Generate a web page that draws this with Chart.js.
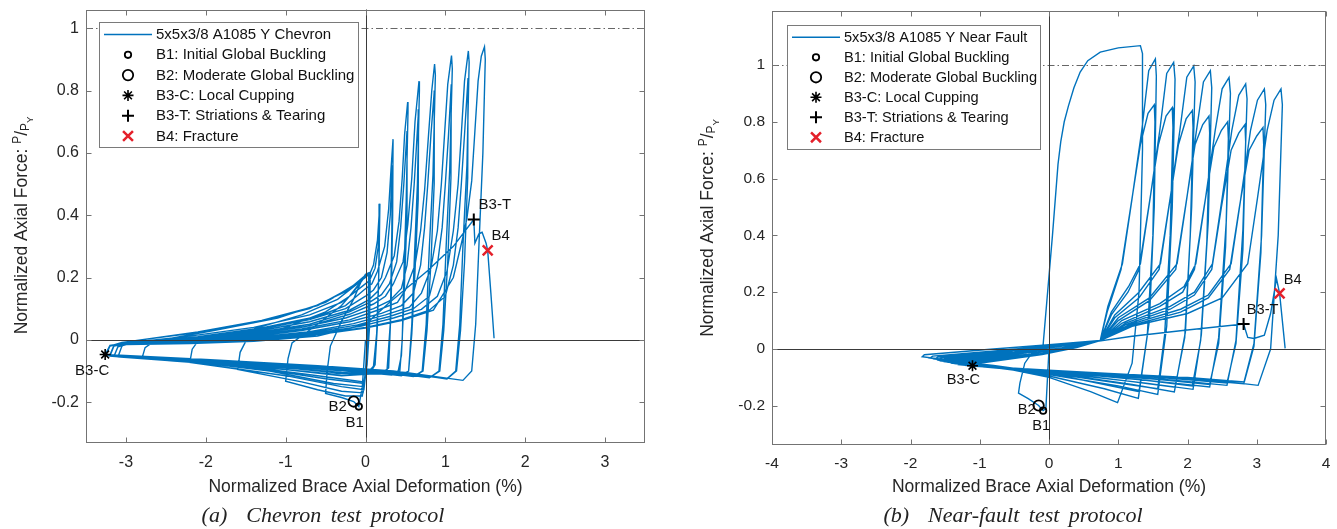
<!DOCTYPE html>
<html>
<head>
<meta charset="utf-8">
<script src="https://cdn.jsdelivr.net/npm/chart.js@4.4.0/dist/chart.umd.min.js"></script>
<style>
  body { margin: 0; background: #fff; }
  #wrap { position: relative; width: 1337px; height: 529px; overflow: hidden; background: #fff; }
  canvas { position: absolute; top: 0; }
  .cap { position: absolute; top: 502px; font: italic 22px "Liberation Serif", "Times New Roman", serif;
         color: #222; white-space: pre; word-spacing: 4px; transform: translateX(-50%); }
</style>
</head>
<body>
<div id="wrap">
  <canvas id="chevron" width="670" height="529" style="left:0"></canvas>
  <canvas id="nearFault" width="669" height="529" style="left:668px"></canvas>
  <div class="cap" style="left:323px">(a)  Chevron test protocol</div>
  <div class="cap" style="left:1013px">(b)  Near-fault test protocol</div>
</div>
<script>
// ---- data ----
const forceTicks = [-0.2, 0, 0.2, 0.4, 0.6, 0.8, 1];
const chevronTicksX = [-3, -2, -1, 0, 1, 2, 3];
const nearFaultTicksX = [-4, -3, -2, -1, 0, 1, 2, 3, 4];

const markerNames = ['B1', 'B2', 'B3-C', 'B3-T', 'B4'];
const markerLegend = ['B1: Initial Global Buckling', 'B2: Moderate Global Buckling',
  'B3-C: Local Cupping', 'B3-T: Striations & Tearing', 'B4: Fracture'];

const chevronMarkerX = [-0.084, -0.148, -3.26, 1.356, 1.53];
const chevronMarkerY = [-0.214, -0.198, -0.047, 0.386, 0.287];
const nearFaultMarkerX = [-0.085, -0.15, -1.105, 2.81, 3.33];
const nearFaultMarkerY = [-0.217, -0.199, -0.059, 0.088, 0.196];

// deformation (%), P/Py
const chevronTrace = [
  [0,0],[-0.04,-0.15],[-0.084,-0.214],[-0.148,-0.198],[-0.3,-0.185],[-0.5,-0.172],
  [-0.48,-0.1],[-0.44,-0.02],[-0.3,0.06],[-0.15,0.13],[-0.05,0.19],[0,0.21],[0.04,0.215],
  [0.03,0.05],[0,-0.1],[-0.04,-0.18],
  [-0.25,-0.18],[-0.6,-0.16],[-1.0,-0.133],
  [-0.97,-0.06],[-0.92,-0.01],[-0.6,0.05],[-0.3,0.11],[-0.1,0.17],[0,0.205],[0.05,0.215],
  [0.04,0.05],[0.01,-0.1],[-0.03,-0.17],
  [-0.3,-0.165],[-0.8,-0.135],[-1.6,-0.095],
  [-1.57,-0.04],[-1.5,-0.005],[-1.0,0.04],[-0.5,0.09],[-0.2,0.14],[-0.05,0.19],[0.02,0.212],[0.05,0.215],
  [0.04,0.05],[0.01,-0.09],[-0.02,-0.16],
  [-0.3,-0.15],[-1.0,-0.115],[-2.2,-0.072],
  [-2.17,-0.03],[-2.1,-0.005],[-1.4,0.035],[-0.8,0.08],[-0.35,0.13],[-0.1,0.18],[0.02,0.212],[0.05,0.215],
  [0.04,0.04],[0.01,-0.09],[-0.03,-0.15],
  [-0.4,-0.14],[-1.2,-0.1],[-2.0,-0.075],[-2.8,-0.06],
  [-2.76,-0.025],[-2.65,-0.005],[-1.9,0.03],[-1.1,0.07],[-0.5,0.12],[-0.15,0.175],[0.02,0.212],[0.06,0.215],
  [0.05,0.04],[0.02,-0.08],[-0.02,-0.14],
  [-0.5,-0.125],[-1.4,-0.09],[-2.3,-0.07],[-3.1,-0.055],
  [-3.05,-0.02],[-2.95,-0.005],[-2.1,0.025],[-1.3,0.062],[-0.6,0.11],[-0.2,0.165],[0,0.205],[0.06,0.215],
  [0.05,0.04],[0.02,-0.08],[-0.02,-0.135],
  [-0.6,-0.115],[-1.5,-0.085],[-2.4,-0.068],[-3.25,-0.05],
  [-3.2,-0.02],[-3.05,-0.008],[-2.2,0.02],[-1.4,0.055],[-0.7,0.1],[-0.25,0.155],[0,0.2],[0.06,0.215],
  // tension excursions, two cycles per amplitude
  [0.1,0.24],[0.15,0.32],[0.18,0.437],[0.17,0.25],[0.15,0.05],[0.12,-0.08],[0.05,-0.11],
  [-0.3,-0.115],[-1.0,-0.095],[-2.0,-0.075],[-3.2,-0.052],
  [-3.15,-0.02],[-3.0,-0.01],[-2.2,0.012],[-1.4,0.04],[-0.7,0.08],[-0.3,0.12],[-0.05,0.17],[0.05,0.19],
  [0.12,0.23],[0.16,0.3],[0.175,0.38],[0.165,0.2],[0.14,0.02],[0.1,-0.085],[0.03,-0.105],
  [-0.4,-0.11],[-1.2,-0.09],[-2.2,-0.07],[-3.15,-0.053],
  [-3.1,-0.022],[-2.95,-0.012],[-2.1,0.01],[-1.3,0.038],[-0.6,0.075],[-0.25,0.11],[-0.02,0.16],[0.08,0.18],
  [0.15,0.22],[0.24,0.3],[0.29,0.42],[0.32,0.55],[0.345,0.644],[0.34,0.4],[0.32,0.1],[0.29,-0.09],[0.2,-0.11],
  [-0.2,-0.11],[-1.0,-0.09],[-2.1,-0.07],[-3.25,-0.05],
  [-3.2,-0.02],[-3.05,-0.012],[-2.2,0.005],[-1.4,0.03],[-0.7,0.065],[-0.25,0.1],[0,0.14],[0.1,0.16],
  [0.2,0.2],[0.27,0.28],[0.31,0.4],[0.335,0.56],[0.33,0.35],[0.31,0.05],[0.27,-0.095],[0.15,-0.11],
  [-0.3,-0.105],[-1.1,-0.088],[-2.2,-0.068],[-3.2,-0.05],
  [-3.15,-0.02],[-3.0,-0.013],[-2.2,0.003],[-1.4,0.026],[-0.7,0.058],[-0.2,0.095],[0.05,0.13],[0.15,0.155],
  [0.25,0.2],[0.36,0.27],[0.42,0.38],[0.46,0.52],[0.49,0.66],[0.528,0.763],[0.532,0.73],[0.51,0.45],[0.48,0.2],[0.46,0],[0.43,-0.1],[0.33,-0.113],
  [0,-0.105],[-0.8,-0.09],[-2.0,-0.07],[-3.2,-0.05],
  [-3.15,-0.018],[-3.0,-0.012],[-2.2,0],[-1.4,0.022],[-0.7,0.05],[-0.2,0.09],[0.05,0.12],[0.2,0.145],
  [0.3,0.18],[0.39,0.25],[0.44,0.36],[0.48,0.5],[0.52,0.67],[0.52,0.4],[0.48,0.12],[0.45,-0.05],[0.41,-0.1],[0.31,-0.112],
  [-0.1,-0.1],[-0.9,-0.087],[-2.1,-0.067],[-3.2,-0.049],
  [-3.15,-0.018],[-3.0,-0.013],[-2.2,-0.002],[-1.4,0.02],[-0.7,0.045],[-0.2,0.082],[0.1,0.115],[0.25,0.14],
  [0.35,0.18],[0.47,0.25],[0.53,0.37],[0.58,0.52],[0.62,0.7],[0.67,0.83],[0.675,0.8],[0.65,0.5],[0.61,0.25],[0.58,0.05],[0.54,-0.1],[0.45,-0.115],
  [0.1,-0.105],[-0.7,-0.09],[-1.9,-0.07],[-3.25,-0.048],
  [-3.2,-0.018],[-3.05,-0.012],[-2.3,-0.004],[-1.5,0.015],[-0.8,0.04],[-0.25,0.07],[0.1,0.1],[0.3,0.125],
  [0.45,0.165],[0.52,0.24],[0.57,0.36],[0.61,0.5],[0.64,0.63],[0.665,0.74],[0.66,0.45],[0.62,0.22],[0.58,0.02],[0.54,-0.1],[0.45,-0.113],
  [0.05,-0.1],[-0.8,-0.087],[-2.0,-0.066],[-3.2,-0.048],
  [-3.15,-0.018],[-3.0,-0.013],[-2.3,-0.006],[-1.5,0.012],[-0.8,0.035],[-0.2,0.064],[0.15,0.095],[0.4,0.12],
  [0.5,0.16],[0.62,0.24],[0.69,0.35],[0.74,0.48],[0.79,0.66],[0.83,0.8],[0.865,0.885],[0.875,0.85],[0.845,0.53],[0.8,0.3],[0.76,0.05],[0.71,-0.1],[0.6,-0.118],
  [0.2,-0.105],[-0.6,-0.09],[-1.9,-0.068],[-3.2,-0.05],
  [-3.15,-0.018],[-3.0,-0.013],[-2.3,-0.008],[-1.5,0.008],[-0.8,0.03],[-0.2,0.058],[0.2,0.085],[0.45,0.11],
  [0.6,0.15],[0.69,0.24],[0.74,0.36],[0.78,0.5],[0.82,0.66],[0.862,0.8],[0.86,0.5],[0.82,0.25],[0.77,0.03],[0.72,-0.1],[0.6,-0.118],
  [0.15,-0.1],[-0.7,-0.086],[-2.0,-0.065],[-3.2,-0.049],
  [-3.15,-0.018],[-3.0,-0.014],[-2.3,-0.009],[-1.5,0.005],[-0.7,0.026],[-0.15,0.052],[0.25,0.08],[0.55,0.105],
  [0.7,0.15],[0.82,0.23],[0.9,0.35],[0.95,0.5],[0.99,0.66],[1.03,0.82],[1.077,0.912],[1.087,0.87],[1.055,0.55],[1.01,0.3],[0.97,0.05],[0.92,-0.1],[0.8,-0.122],
  [0.3,-0.105],[-0.6,-0.088],[-2.0,-0.065],[-3.25,-0.05],
  [-3.2,-0.018],[-3.05,-0.014],[-2.3,-0.01],[-1.5,0.003],[-0.7,0.022],[-0.1,0.048],[0.3,0.075],[0.6,0.1],
  [0.8,0.14],[0.9,0.24],[0.96,0.36],[1.0,0.5],[1.04,0.66],[1.074,0.82],[1.07,0.52],[1.03,0.25],[0.98,0.03],[0.93,-0.1],[0.8,-0.122],
  [0.25,-0.1],[-0.7,-0.085],[-2.0,-0.064],[-3.2,-0.048],
  [-3.15,-0.018],[-3.0,-0.015],[-2.3,-0.011],[-1.5,0],[-0.7,0.018],[-0.05,0.044],[0.35,0.07],[0.7,0.098],
  [0.9,0.14],[1.02,0.22],[1.1,0.35],[1.16,0.5],[1.2,0.66],[1.24,0.83],[1.288,0.927],[1.298,0.89],[1.27,0.56],[1.22,0.3],[1.18,0.05],[1.13,-0.1],[1.02,-0.125],
  [0.4,-0.105],[-0.6,-0.085],[-2.0,-0.064],[-3.2,-0.048],
  [-3.15,-0.018],[-3.0,-0.015],[-2.3,-0.012],[-1.5,-0.002],[-0.7,0.015],[0,0.04],[0.45,0.065],[0.8,0.095],
  [1.0,0.14],[1.1,0.24],[1.16,0.36],[1.2,0.5],[1.245,0.68],[1.284,0.84],[1.28,0.52],[1.24,0.25],[1.19,0.03],[1.14,-0.1],[1.02,-0.126],
  [0.35,-0.1],[-0.6,-0.083],[-2.0,-0.063],[-3.2,-0.048],
  [-3.15,-0.018],[-3.0,-0.015],[-2.3,-0.012],[-1.5,-0.003],[-0.7,0.013],[0,0.038],[0.45,0.062],[0.85,0.095],
  [1.1,0.2],[1.22,0.33],[1.27,0.39],[1.33,0.51],[1.37,0.67],[1.41,0.83],[1.45,0.91],[1.49,0.94],[1.5,0.9],[1.47,0.6],[1.42,0.3],[1.38,0.05],[1.33,-0.1],[1.22,-0.13],
  [0.5,-0.105],[-0.5,-0.085],[-2.0,-0.063],[-3.26,-0.047],
  // last tension: tearing, then fracture
  [-3.2,-0.018],[-3.0,-0.015],[-2.2,-0.012],[-1.4,-0.005],[-0.6,0.012],[0,0.05],[0.3,0.12],[0.77,0.22],[1.1,0.3],[1.356,0.386],
  [1.37,0.31],[1.42,0.34],[1.46,0.345],[1.51,0.31],[1.53,0.287],[1.57,0.15],[1.61,0.005]
];

const nearFaultTrace = [
  [0,0],[-0.045,-0.21],[-0.085,-0.217],[-0.15,-0.199],[-0.3,-0.175],[-0.44,-0.155],
  [-0.42,-0.12],[-0.35,-0.05],[-0.25,-0.015],[-0.09,0],
  // near-fault pulse
  [0.05,0.4],[0.13,0.65],[0.17,0.73],[0.22,0.8],[0.28,0.855],[0.36,0.92],[0.45,0.975],[0.56,1.015],[0.74,1.045],[1.0,1.06],[1.32,1.068],
  [1.35,1.04],[1.35,0.7],[1.3,0.2],[1.2,-0.05],[0.99,-0.189],
  [0.6,-0.15],[0,-0.1],[-0.8,-0.06],[-1.83,-0.027],
  [-1.8,-0.02],[-0.8,0],[0,0.015],[0.74,0.03],
  // following cycles, two per amplitude
  [0.85,0.15],[1.06,0.3],[1.2,0.53],[1.34,0.77],[1.44,0.98],[1.536,1.021],
  [1.55,0.96],[1.52,0.5],[1.45,0.1],[1.29,-0.174],
  [0.8,-0.14],[0,-0.095],[-0.8,-0.06],[-1.72,-0.032],
  [-1.68,-0.025],[-0.7,-0.005],[0,0.012],[0.74,0.03],
  [0.84,0.13],[1.04,0.28],[1.18,0.5],[1.32,0.72],[1.43,0.83],[1.52,0.86],
  [1.53,0.8],[1.5,0.4],[1.42,0.05],[1.3,-0.15],
  [0.8,-0.125],[0,-0.085],[-0.8,-0.058],[-1.65,-0.035],
  [-1.6,-0.028],[-0.7,-0.006],[0,0.01],[0.74,0.03],
  [0.9,0.13],[1.15,0.22],[1.32,0.3],[1.46,0.53],[1.6,0.77],[1.7,0.97],[1.8,1.009],
  [1.82,0.95],[1.78,0.5],[1.7,0.08],[1.57,-0.16],
  [1.0,-0.13],[0,-0.09],[-0.8,-0.065],[-1.6,-0.04],
  [-1.56,-0.032],[-0.6,-0.008],[0,0.008],[0.74,0.03],
  [0.9,0.12],[1.14,0.2],[1.3,0.28],[1.44,0.5],[1.58,0.72],[1.69,0.82],[1.78,0.85],
  [1.79,0.78],[1.75,0.4],[1.67,0.05],[1.57,-0.14],
  [1.0,-0.12],[0,-0.085],[-0.8,-0.062],[-1.55,-0.042],
  [-1.5,-0.035],[-0.6,-0.01],[0,0.007],[0.74,0.03],
  [0.95,0.12],[1.3,0.2],[1.61,0.3],[1.75,0.53],[1.89,0.77],[1.99,0.957],[2.09,0.997],
  [2.11,0.94],[2.06,0.5],[1.97,0.06],[1.81,-0.151],
  [1.2,-0.125],[0.2,-0.09],[-0.6,-0.07],[-1.5,-0.045],
  [-1.46,-0.038],[-0.5,-0.012],[0.1,0.008],[0.74,0.03],
  [0.95,0.11],[1.3,0.18],[1.59,0.28],[1.73,0.5],[1.87,0.72],[1.98,0.81],[2.07,0.84],
  [2.08,0.78],[2.04,0.4],[1.96,0.04],[1.82,-0.135],
  [1.2,-0.115],[0.2,-0.085],[-0.6,-0.068],[-1.45,-0.047],
  [-1.4,-0.04],[-0.5,-0.013],[0.1,0.007],[0.74,0.03],
  [1.0,0.11],[1.45,0.18],[1.85,0.3],[1.99,0.53],[2.13,0.77],[2.23,0.94],[2.33,0.98],
  [2.35,0.92],[2.3,0.45],[2.2,0.05],[2.08,-0.142],
  [1.4,-0.12],[0.3,-0.09],[-0.5,-0.072],[-1.4,-0.05],
  [-1.36,-0.042],[-0.4,-0.015],[0.2,0.005],[0.74,0.03],
  [1.0,0.1],[1.45,0.17],[1.83,0.28],[1.97,0.5],[2.11,0.72],[2.22,0.79],[2.31,0.82],
  [2.32,0.76],[2.28,0.38],[2.19,0.03],[2.07,-0.13],
  [1.4,-0.11],[0.3,-0.086],[-0.5,-0.07],[-1.35,-0.052],
  [-1.3,-0.044],[-0.4,-0.016],[0.2,0.005],[0.74,0.03],
  [1.05,0.1],[1.6,0.16],[1.95,0.22],[2.12,0.3],[2.26,0.53],[2.4,0.77],[2.5,0.916],[2.6,0.956],
  [2.62,0.9],[2.56,0.45],[2.45,0.04],[2.32,-0.134],
  [1.6,-0.115],[0.5,-0.09],[-0.4,-0.075],[-1.3,-0.055],
  [-1.26,-0.046],[-0.3,-0.018],[0.3,0.005],[0.74,0.03],
  [1.05,0.09],[1.6,0.15],[1.93,0.2],[2.1,0.28],[2.24,0.5],[2.38,0.71],[2.49,0.77],[2.58,0.8],
  [2.59,0.74],[2.55,0.36],[2.45,0.02],[2.32,-0.125],
  [1.6,-0.108],[0.5,-0.087],[-0.4,-0.072],[-1.25,-0.056],
  [-1.2,-0.048],[-0.3,-0.018],[0.3,0.005],[0.74,0.03],
  [1.1,0.09],[1.75,0.15],[2.1,0.2],[2.36,0.3],[2.5,0.53],[2.64,0.77],[2.74,0.893],[2.84,0.933],
  [2.86,0.88],[2.8,0.42],[2.7,0.03],[2.57,-0.128],
  [1.8,-0.11],[0.6,-0.088],[-0.3,-0.075],[-1.2,-0.058],
  [-1.16,-0.05],[-0.2,-0.02],[0.35,0.005],[0.74,0.03],
  [1.1,0.085],[1.75,0.14],[2.1,0.19],[2.35,0.28],[2.49,0.5],[2.63,0.7],[2.74,0.76],[2.83,0.79],
  [2.84,0.73],[2.8,0.35],[2.7,0.02],[2.57,-0.12],
  [1.8,-0.104],[0.6,-0.085],[-0.3,-0.073],[-1.15,-0.058],
  [-1.1,-0.05],[-0.2,-0.02],[0.35,0.005],[0.74,0.03],
  [1.15,0.085],[1.9,0.14],[2.3,0.19],[2.63,0.3],[2.77,0.53],[2.91,0.77],[3.01,0.876],[3.11,0.916],
  [3.13,0.86],[3.07,0.4],[2.96,0.02],[2.81,-0.122],
  [2.0,-0.105],[0.8,-0.088],[-0.2,-0.075],[-1.1,-0.06],
  [-1.06,-0.052],[-0.1,-0.02],[0.4,0.005],[0.74,0.03],
  [1.15,0.08],[1.9,0.13],[2.3,0.18],[2.61,0.28],[2.75,0.5],[2.89,0.7],[3.0,0.75],[3.09,0.78],
  [3.1,0.72],[3.06,0.34],[2.96,0.01],[2.82,-0.116],
  [2.0,-0.1],[0.8,-0.085],[-0.2,-0.073],[-1.1,-0.06],
  [-1.06,-0.052],[-0.1,-0.02],[0.4,0.005],[0.74,0.03],
  [1.2,0.08],[2.0,0.125],[2.5,0.18],[2.87,0.3],[3.01,0.53],[3.15,0.77],[3.25,0.876],[3.35,0.916],
  [3.37,0.86],[3.31,0.4],[3.2,0],[3.02,-0.128],
  [2.2,-0.105],[1.0,-0.088],[0,-0.075],[-1.105,-0.059],
  // last tension: tearing, then fracture
  [-1.05,-0.05],[-0.2,-0.015],[0.5,0.02],[1.2,0.045],[1.93,0.065],[2.81,0.088],
  [2.87,0.041],[2.96,0.037],[3.11,0.049],[3.2,0.125],[3.285,0.248],[3.33,0.196],[3.41,0.002]
];

// ---- styles ----
Chart.defaults.font.family = '"Liberation Sans", Arial, Helvetica, sans-serif';
const FONT = '"Liberation Sans", Arial, Helvetica, sans-serif';
const TEXT = '#262626';
const markerStyles = [
  {style: 'circle', r: 3.2, lw: 1.8, color: '#000'},
  {style: 'circle', r: 5.2, lw: 1.8, color: '#000'},
  {style: 'star', r: 5.5, lw: 1.6, color: '#000'},
  {style: 'cross', r: 6, lw: 2, color: '#000'},
  {style: 'crossRot', r: 7, lw: 2.5, color: '#e4202a'}
];

function drawMarker(ctx, m, x, y) {
  ctx.save();
  ctx.strokeStyle = m.color;
  ctx.lineWidth = m.lw;
  ctx.beginPath();
  if (m.style === 'circle') ctx.arc(x, y, m.r, 0, Math.PI * 2);
  if (m.style === 'cross' || m.style === 'star') {
    ctx.moveTo(x, y - m.r); ctx.lineTo(x, y + m.r);
    ctx.moveTo(x - m.r, y); ctx.lineTo(x + m.r, y);
  }
  if (m.style === 'crossRot' || m.style === 'star') {
    const d = m.r * Math.SQRT1_2;
    ctx.moveTo(x - d, y - d); ctx.lineTo(x + d, y + d);
    ctx.moveTo(x - d, y + d); ctx.lineTo(x + d, y - d);
  }
  ctx.stroke();
  ctx.restore();
}

function drawForceTitle(ctx, t) {
  const s = t.size;
  const parts = [
    {txt: 'Normalized Axial Force: ', size: s, dy: 0},
    {txt: 'P', size: s * 0.68, dy: -s * 0.38},
    {txt: '/', size: s, dy: 0},
    {txt: 'P', size: s * 0.68, dy: s * 0.12},
    {txt: 'Y', size: s * 0.55, dy: s * 0.3}
  ];
  ctx.save();
  ctx.translate(t.x, t.y);
  ctx.rotate(-Math.PI / 2);
  ctx.fillStyle = TEXT;
  ctx.textBaseline = 'alphabetic';
  let total = 0;
  parts.forEach(p => { ctx.font = p.size + 'px ' + FONT; p.w = ctx.measureText(p.txt).width; total += p.w; });
  let cx = -total / 2;
  parts.forEach(p => {
    ctx.font = p.size + 'px ' + FONT;
    ctx.fillText(p.txt, cx, s * 0.36 + p.dy);
    cx += p.w;
  });
  ctx.restore();
}

// frame, reference lines, legend and point labels in the MATLAB look
const matlabAxes = {
  id: 'matlabAxes',
  afterDatasetDraw(chart, args, o) {
    if (!chart.data.datasets[args.index].showLine) return;
    const {ctx, chartArea: a, scales: {x, y}} = chart;
    ctx.save();
    const y1 = Math.round(y.getPixelForValue(1)) + 0.5;
    ctx.strokeStyle = '#555';
    ctx.lineWidth = 0.9;
    ctx.setLineDash([7, 3, 1.5, 3]);
    ctx.beginPath(); ctx.moveTo(a.left, y1); ctx.lineTo(a.right, y1); ctx.stroke();
    ctx.setLineDash([]);
    const y0 = Math.round(y.getPixelForValue(0)) + 0.5;
    const x0 = Math.round(x.getPixelForValue(0)) + 0.5;
    ctx.strokeStyle = '#3a3a3a';
    ctx.lineWidth = 1;
    ctx.beginPath();
    ctx.moveTo(a.left, y0); ctx.lineTo(a.right, y0);
    ctx.moveTo(x0, a.top); ctx.lineTo(x0, a.bottom);
    ctx.stroke();
    ctx.restore();
  },
  afterDraw(chart, args, o) {
    const {ctx, chartArea: a, scales: {x, y}} = chart;
    ctx.save();
    ctx.strokeStyle = '#737373';
    ctx.lineWidth = 1;
    const L = Math.round(a.left) + 0.5, R = Math.round(a.right) - 0.5;
    const T = Math.round(a.top) + 0.5, B = Math.round(a.bottom) - 0.5;
    ctx.strokeRect(L, T, R - L, B - T);
    ctx.beginPath();
    o.xTicks.forEach(v => {
      const px = Math.round(x.getPixelForValue(v)) + 0.5;
      ctx.moveTo(px, B); ctx.lineTo(px, B - 5);
      ctx.moveTo(px, T); ctx.lineTo(px, T + 5);
    });
    forceTicks.forEach(v => {
      const py = Math.round(y.getPixelForValue(v)) + 0.5;
      ctx.moveTo(L, py); ctx.lineTo(L + 5, py);
      ctx.moveTo(R, py); ctx.lineTo(R - 5, py);
    });
    ctx.stroke();

    // point labels
    ctx.fillStyle = '#111';
    ctx.font = o.labelSize + 'px ' + FONT;
    ctx.textAlign = 'center';
    ctx.textBaseline = 'middle';
    markerNames.forEach((name, i) => {
      const pt = chart.getDatasetMeta(i).data[0];
      ctx.fillText(name, pt.x + o.labelOffsets[i][0], pt.y + o.labelOffsets[i][1]);
    });

    // legend
    const lg = o.legend;
    ctx.fillStyle = '#fff';
    ctx.fillRect(lg.left, lg.top, lg.width, lg.height);
    ctx.strokeStyle = '#7a7a7a';
    ctx.strokeRect(lg.left + 0.5, lg.top + 0.5, lg.width, lg.height);
    const ds = chart.data.datasets;
    const trace = ds[ds.length - 1];
    const entries = [trace].concat(ds.slice(0, ds.length - 1));
    ctx.textAlign = 'left';
    ctx.font = lg.size + 'px ' + FONT;
    entries.forEach((d, i) => {
      const ry = lg.top + lg.row0 + i * lg.gap;
      if (i === 0) {
        ctx.strokeStyle = d.borderColor;
        ctx.lineWidth = 1.5;
        ctx.beginPath(); ctx.moveTo(lg.left + 5, ry); ctx.lineTo(lg.left + 53, ry); ctx.stroke();
      } else {
        drawMarker(ctx, markerStyles[i - 1], lg.left + 29, ry);
      }
      ctx.fillStyle = '#111';
      ctx.fillText(d.label, lg.left + 57, ry + 0.5);
    });

    drawForceTitle(ctx, o.yTitle);
    ctx.restore();
  }
};

function buildPanel(id, p) {
  const datasets = markerNames.map((name, i) => ({
    label: markerLegend[i],
    data: [{x: p.markerX[i], y: p.markerY[i]}],
    showLine: false,
    order: 0,
    pointStyle: markerStyles[i].style,
    pointRadius: markerStyles[i].r,
    pointBorderWidth: markerStyles[i].lw,
    pointBorderColor: markerStyles[i].color,
    pointBackgroundColor: 'rgba(0,0,0,0)'
  }));
  datasets.push({
    label: p.traceLabel,
    data: p.trace.map(d => ({x: d[0], y: d[1]})),
    showLine: true,
    order: 1,
    borderColor: '#0072BD',
    borderWidth: 1.4,
    pointRadius: 0,
    tension: 0
  });
  const axisH = 60;
  return new Chart(document.getElementById(id), {
    type: 'scatter',
    data: {datasets},
    plugins: [matlabAxes],
    options: {
      responsive: false,
      animation: false,
      devicePixelRatio: 1,
      layout: {padding: {left: 0, top: p.area.top, right: p.canvasW - p.area.right, bottom: 529 - p.area.bottom - axisH}},
      plugins: {
        legend: {display: false},
        tooltip: {enabled: false},
        matlabAxes: {
          xTicks: p.xTicks, legend: p.legend, labelOffsets: p.labelOffsets,
          labelSize: p.legend.size, yTitle: p.yTitle
        }
      },
      scales: {
        x: {
          type: 'linear', min: p.xMin, max: p.xMax,
          afterBuildTicks: s => { s.ticks = p.xTicks.map(v => ({value: v})); },
          afterFit: s => { s.height = axisH; s.paddingLeft = 0; s.paddingRight = 0; },
          grid: {display: false, drawTicks: false},
          border: {display: false},
          ticks: {color: TEXT, font: {size: p.tickSize}, padding: p.xTickPad, autoSkip: false, maxRotation: 0,
                  callback: v => String(v)},
          title: {display: true, text: 'Normalized Brace Axial Deformation (%)', color: TEXT,
                  font: {size: p.titleSize}, padding: {top: 0, bottom: p.titlePad}}
        },
        y: {
          type: 'linear', min: p.yMin, max: p.yMax,
          afterBuildTicks: s => { s.ticks = forceTicks.map(v => ({value: v})); },
          afterFit: s => { s.width = p.area.left; s.paddingTop = 0; s.paddingBottom = 0; },
          grid: {display: false, drawTicks: false},
          border: {display: false},
          ticks: {color: TEXT, font: {size: p.tickSize}, padding: 7, autoSkip: false, callback: v => String(v)}
        }
      }
    }
  });
}

buildPanel('chevron', {
  trace: chevronTrace, markerX: chevronMarkerX, markerY: chevronMarkerY,
  traceLabel: '5x5x3/8 A1085 Y Chevron',
  xTicks: chevronTicksX, xMin: -3.5, xMax: 3.5, yMin: -0.331, yMax: 1.06,
  canvasW: 670, area: {left: 86, top: 8, right: 645, bottom: 443},
  tickSize: 16, titleSize: 17.5, xTickPad: 10, titlePad: 5.5,
  legend: {left: 99, top: 22, width: 259, height: 125, row0: 12.5, gap: 20.3, size: 15},
  labelOffsets: [[-4, 16], [-16, 5], [-13, 16], [21, -15], [13, -15]],
  yTitle: {x: 21, y: 225.5, size: 17.5}
});

buildPanel('nearFault', {
  trace: nearFaultTrace, markerX: nearFaultMarkerX, markerY: nearFaultMarkerY,
  traceLabel: '5x5x3/8 A1085 Y Near Fault',
  xTicks: nearFaultTicksX, xMin: -4, xMax: 4, yMin: -0.338, yMax: 1.19,
  canvasW: 669, area: {left: 104, top: 11, right: 658, bottom: 445},
  tickSize: 15.5, titleSize: 17.5, xTickPad: 9, titlePad: 7.5,
  legend: {left: 119, top: 25, width: 253, height: 124, row0: 12.3, gap: 20, size: 14.6},
  labelOffsets: [[-2, 15], [-12, 4], [-9, 14], [19, -14], [13, -13]],
  yTitle: {x: 39, y: 228, size: 17.5}
});
</script>
</body>
</html>
